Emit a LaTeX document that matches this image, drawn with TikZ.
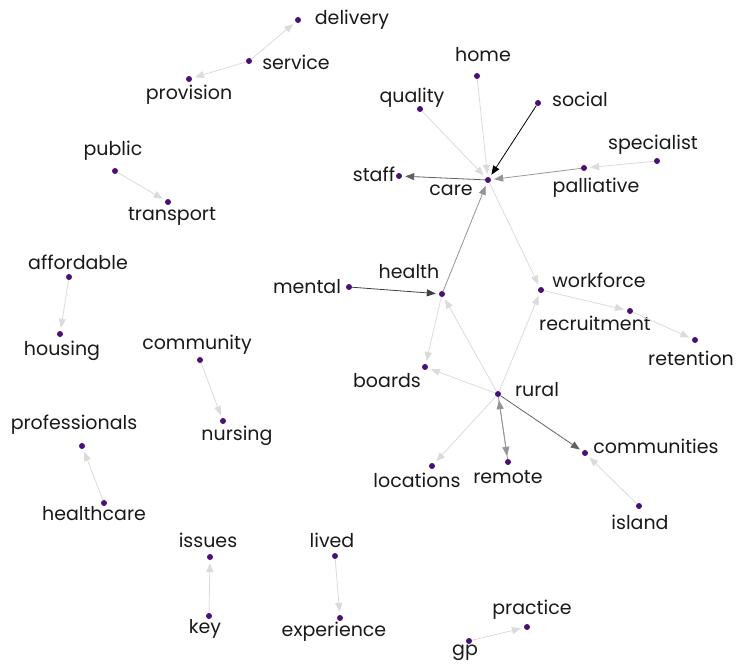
\documentclass[tikz,border=0pt]{standalone}
\usepackage{fontspec}
\setmainfont{Poppins}
\usetikzlibrary{arrows.meta}

\tikzset{
  word/.style={circle, fill=dotcol, inner sep=0pt, minimum size=6pt},
  lbl/.style={inner sep=0pt, font=\fontsize{19}{19}\selectfont, text=black!90},
  link/.style={-{Triangle[length=9pt,width=7pt]}, line width=0.8pt, shorten >=3pt},
  faint/.style={link, draw=black!14},
  mid/.style={link, draw=black!42},
  dark/.style={link, draw=black!62},
  darker/.style={link, draw=black!75},
  full/.style={link, draw=black}
}
\definecolor{dotcol}{RGB}{72,16,120}

\begin{document}
\begin{tikzpicture}[x=1pt, y=-1pt]

    \useasboundingbox (0,0) rectangle (740,666);

    % Word points
    \node[word] (delivery) at (298,20) {};
    \node[word] (service) at (249,61) {};
    \node[word] (provision) at (189,79) {};
    \node[word] (public) at (115,171) {};
    \node[word] (transport) at (168,202) {};
    \node[word] (affordable) at (69,277) {};
    \node[word] (housing) at (60,334) {};
    \node[word] (community) at (200,360) {};
    \node[word] (nursing) at (223,421) {};
    \node[word] (professionals) at (82,446) {};
    \node[word] (healthcare) at (104,503) {};
    \node[word] (issues) at (210,557) {};
    \node[word] (key) at (209,616) {};
    \node[word] (lived) at (335,556) {};
    \node[word] (experience) at (340,618) {};
    \node[word] (gp) at (469,641) {};
    \node[word] (practice) at (527,627) {};
    \node[word] (home) at (477,76) {};
    \node[word] (quality) at (420,109) {};
    \node[word] (social) at (538,103) {};
    \node[word] (specialist) at (657,161) {};
    \node[word] (palliative) at (584,168) {};
    \node[word] (staff) at (399,176) {};
    \node[word] (care) at (488,180) {};
    \node[word] (health) at (442,294) {};
    \node[word] (mental) at (349,287) {};
    \node[word] (workforce) at (541,290) {};
    \node[word] (recruitment) at (630,311) {};
    \node[word] (retention) at (695,340) {};
    \node[word] (boards) at (425,367) {};
    \node[word] (rural) at (498,394) {};
    \node[word] (locations) at (432,466) {};
    \node[word] (remote) at (508,462) {};
    \node[word] (communities) at (585,453) {};
    \node[word] (island) at (639,506) {};

    % Word labels
    \node[lbl] (t-delivery) at (352,20) {delivery};
    \node[lbl] (t-service) at (296,62) {service};
    \node[lbl] (t-provision) at (189,95) {provision};
    \node[lbl] (t-public) at (113,151) {public};
    \node[lbl] (t-transport) at (172,216) {transport};
    \node[lbl] (t-affordable) at (78,262) {affordable};
    \node[lbl] (t-housing) at (62,351) {housing};
    \node[lbl] (t-community) at (197,345) {community};
    \node[lbl] (t-nursing) at (237,436) {nursing};
    \node[lbl] (t-professionals) at (74,425) {professionals};
    \node[lbl] (t-healthcare) at (94,514) {healthcare};
    \node[lbl] (t-issues) at (208,540) {issues};
    \node[lbl] (t-key) at (205,629) {key};
    \node[lbl] (t-lived) at (332,540) {lived};
    \node[lbl] (t-experience) at (334,632) {experience};
    \node[lbl] (t-gp) at (465,653) {gp};
    \node[lbl] (t-practice) at (532,610) {practice};
    \node[lbl] (t-home) at (483,55) {home};
    \node[lbl] (t-quality) at (412,98) {quality};
    \node[lbl] (t-social) at (580,99) {social};
    \node[lbl] (t-specialist) at (653,145) {specialist};
    \node[lbl] (t-palliative) at (596,188) {palliative};
    \node[lbl] (t-staff) at (374,174) {staff};
    \node[lbl] (t-care) at (451,190) {care};
    \node[lbl] (t-health) at (409,272) {health};
    \node[lbl] (t-mental) at (307,287) {mental};
    \node[lbl] (t-workforce) at (599,280) {workforce};
    \node[lbl] (t-recruitment) at (595,323) {recruitment};
    \node[lbl] (t-retention) at (691,358) {retention};
    \node[lbl] (t-boards) at (387,381) {boards};
    \node[lbl] (t-rural) at (537,390) {rural};
    \node[lbl] (t-locations) at (417,480) {locations};
    \node[lbl] (t-remote) at (508,477) {remote};
    \node[lbl] (t-communities) at (656,446) {communities};
    \node[lbl] (t-island) at (640,522) {island};

    % Bigram links
    \draw[faint] (service) -- (delivery);
    \draw[faint] (service) -- (provision);
    \draw[faint] (public) -- (transport);
    \draw[faint] (affordable) -- (housing);
    \draw[faint] (community) -- (nursing);
    \draw[faint] (healthcare) -- (professionals);
    \draw[faint] (key) -- (issues);
    \draw[faint] (lived) -- (experience);
    \draw[faint] (gp) -- (practice);
    \draw[faint] (home) -- (care);
    \draw[faint] (quality) -- (care);
    \draw[full] (social) -- (care);
    \draw[mid] (palliative) -- (care);
    \draw[faint] (specialist) -- (palliative);
    \draw[dark] (care) -- (staff);
    \draw[mid] (health) -- (care);
    \draw[faint] (care) -- (workforce);
    \draw[darker] (mental) -- (health);
    \draw[faint] (health) -- (boards);
    \draw[faint] (workforce) -- (recruitment);
    \draw[faint] (recruitment) -- (retention);
    \draw[faint] (rural) -- (health);
    \draw[faint] (rural) -- (workforce);
    \draw[faint] (rural) -- (boards);
    \draw[faint] (rural) -- (locations);
    \draw[mid] (rural) -- (remote);
    \draw[mid] (remote) -- (rural);
    \draw[dark] (rural) -- (communities);
    \draw[faint] (island) -- (communities);

\end{tikzpicture}
\end{document}
